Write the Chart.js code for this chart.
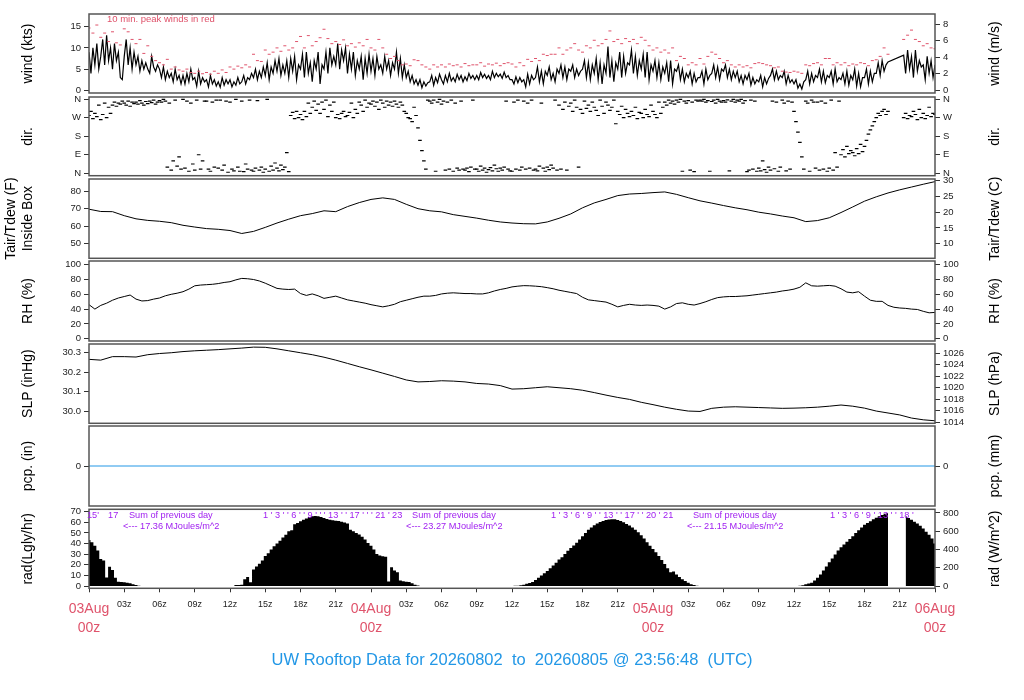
<!DOCTYPE html>
<html>
<head>
<meta charset="utf-8">
<script src="https://cdn.jsdelivr.net/npm/chart.js@4.4.1/dist/chart.umd.min.js"></script>
<style>
  body { margin: 0; background: #fff; width: 1024px; height: 700px; overflow: hidden; position: relative; }
  canvas { position: absolute; left: 0; }
</style>
</head>
<body>
<canvas id="cWind"></canvas>
<canvas id="cDir"></canvas>
<canvas id="cTemp"></canvas>
<canvas id="cRh"></canvas>
<canvas id="cSlp"></canvas>
<canvas id="cPcp"></canvas>
<canvas id="cRad"></canvas>
<script>
// ---- data (hours since 03Aug 00z) ----
// wind speed, kts, 6 samples per hour
const windKts = [
  [9,4,10,6,11,5], [8,12,6,13,7,10], [5,11,7,9,3,2.5], [8,12,6,10,5,9],
  [6,8,4.5,7,5,6.5], [5,4,8,5.5,4.5,6], [5,3,5.5,2.5,4.5,3], [4,2,5,2.5,3.5,1.5],
  [3.5,1.5,4,2,5,2.5], [3,1,4.5,1.5,3,2], [2.5,0.8,3.5,1.5,2.5,1], [2,0.7,3,1.2,2.5,1.5],
  [2.5,0.8,2,1.2,3,1.5], [2,3.5,1.5,3,2.5,4], [3,5,2.5,4.5,3,5.5], [3.5,6.5,2.5,5.5,4,7],
  [4.5,7.5,3.5,6,4,7], [3,7.5,4.5,8,2.5,6], [5,8.5,3,9,4,6.5], [2,7,5,9,1.5,6],
  [5,9,4,10,6,8], [6,11,5,9.5,7,10], [4,8.5,5,9,3.5,7], [5,8,2.5,7.5,4,8.5],
  [4.5,7.5,3.5,8,5,6], [4,8,5,7,3.5,6.5], [5,9,4,7.5,3,6], [3,4.5,2,3.5,1.5,2.5],
  [1.2,2.5,0.6,2,1,1.8], [2,3.5,1.2,3,1.8,3.8], [2.5,1.5,3.5,2,4,2.2], [3,2,3.8,2.5,3.5,2],
  [3.2,2.3,4,2.8,3.5,2.5], [3.5,2.5,4.2,3,3.8,2.8], [3.5,2.5,4.5,3,4,3.2], [3.8,2.8,4.3,3,3.5,2.5],
  [2.5,1.5,3.2,1.8,3,2], [2.5,0.8,3.8,1.5,3.5,2.5], [3,5.5,2,4.5,1.5,4.5], [3.5,5.5,2.5,4,2,5],
  [4,6,3,5.5,2.5,5], [4.5,6,3,5,3.5,4.5], [5,7,3,6.5,2.5,6], [4,7.5,2.5,6.5,1.5,6],
  [4,10.3,3,7,2,6.5], [5,9,3,8,4,6.5], [6,9.5,4,8,3.5,7], [5,8.5,3,9,2.5,6],
  [4.5,7,3,6.5,2.5,5.5], [4,6.5,2,7,1.5,5], [4.5,6,2.5,5,2,4], [3,4.5,1.5,4,2,3],
  [3,4.5,1.5,5,2.5,3.5], [4,6,3,5.5,2.5,5], [4.5,6,3,5,2.5,4.5], [3,4.5,2,3.5,1.5,3.5],
  [2.5,4,1.2,3,1.5,2.5], [2,3.5,0.8,3,1.5,2.8], [3.5,5,2.5,4.5,2.5,3.5], [3,4.5,1.5,3.5,1.8,2.5],
  [1.5,2.5,0.5,1.5,0.3,2], [2.5,4.5,1.5,4,2,3.5], [3,5,2,4.5,1.8,3.5], [3,4.5,1.5,5,2,3],
  [2.5,4,1.5,4.5,1.2,3.5], [2.5,5,1,4,0.8,3], [3,5,1.5,4.5,2,4], [4,6.5,3.5,7,4.5,6],
  [6.7,null,null,null,null,null], [null,null,8.3,4,9.5,5], [8,3,9.5,4.5,7,5.5], [6,2.5,8,4,7,3],
  [6]
];
// 10 min peak wind, kts, 3 samples per hour
const gustKts = [
  [14.7,13.5,15.4], [12.5,13.5,11.5], [13.8,11.2,10.7], [14.5,13.8,12],
  [11,12,8.7], [10.5,8,7], [6.5,6,7.3], [5,5.5,4.8],
  [4.5,5,4.2], [4,4.5,3.9], [4.2,3.8,4.5], [4,4.8,4.2],
  [5.5,5,5.7], [5.3,6,5.5], [8.5,7,6.8], [9.5,8.5,9],
  [10,9.2,10.5], [9.5,10,11.5], [12.7,10,12.9], [10.5,11.5,12.4],
  [14.4,12.2,11], [11.5,10.8,11.9], [10.5,11,10.2], [11.2,10.5,12],
  [10,9.5,12], [10,8.5,7.5], [8,7,6], [6.2,5.8,7.2],
  [7,6,5.5], [5,6,5.5], [6,5.5,6.2], [5.8,6,5.5],
  [6.3,5.8,6], [6,6.5,5.7], [6.2,6,6.4], [5.8,6.3,6.5],
  [6.2,5.5,6.5], [5.8,7.3,6.8], [7.5,7,8.5], [8.2,8.5,8.5],
  [10,8.5,9.5], [10,11,9.5], [9,10.5,10], [11.8,10.5,11],
  [12,14,11.5], [12,11,12.2], [11.5,12,11], [12.5,11.8,10.5],
  [9.5,10,9], [9.5,8.8,10], [7,8,7.5], [6,6.5,6],
  [7.5,6.2,8], [9,8.5,7.5], [6.5,7,6], [5.5,6,5.5],
  [5.8,5.3,6.3], [6.5,6.3,6], [5.8,5.3,5.5], [4.5,4.3,4.2],
  [4.5,4.3,4], [6,5.8,6.3], [6.5,6,7.5], [7.5,6,6.5],
  [6,6.5,5.8], [6.2,6,6.5], [6.3,5.8,7], [7.2,8,10],
  [8.5,null,null], [null,12,13], [14.2,12,11.5], [10.5,11,10],
  [9.8]
];
// wind direction, degrees, 6 samples per hour
const dirDeg = [
  [280,300,265,290,275,330], [260,285,340,270,320,290], [330,345,325,340,335,350], [340,330,350,325,345,338],
  [345,335,352,340,330,348], [338,350,342,355,335,345], [352,345,358,350,30,340], [15,60,355,35,80,20],
  [358,25,350,10,340,45], [15,355,90,20,60,350], [350,20,10,345,30,355], [25,355,15,40,350,5],
  [345,20,12,358,30,10], [350,8,45,20,355,15], [10,25,352,15,30,5], [20,358,10,35,15,50],
  [25,12,40,18,30,100], [8,280,295,265,300,270], [285,260,300,275,340,290], [320,350,305,335,290,345],
  [310,355,275,330,300,345], [270,285,265,290,300,275], [280,295,340,270,310,290], [345,330,300,355,320,340],
  [335,350,325,345,310,355], [340,320,350,330,345,325], [350,335,320,345,330,300], [290,270,265,250,320,280],
  [220,160,110,60,20,355], [350,340,355,10,345,358], [335,350,15,345,20,355], [10,340,25,15,350,20],
  [15,25,8,30,355,20], [20,10,35,15,25,5], [18,28,12,40,22,10], [25,15,30,350,20,12],
  [10,345,20,355,15,30], [350,20,340,25,355,15], [20,12,35,340,25,10], [30,18,40,25,355,15],
  [330,20,310,345,15,325], [340,300,355,320,30,310], [290,350,315,330,300,345], [320,305,280,355,325,290],
  [345,330,305,320,355,240], [300,285,325,270,310,290], [275,300,280,320,265,295], [290,270,310,285,275,330],
  [300,285,270,345,290,320], [345,330,355,340,350,335], [355,345,358,10,350,340], [352,15,345,8,355,350],
  [355,350,358,345,352,10], [348,355,340,358,350,345], [352,345,356,12,350,358], [345,355,350,358,340,352],
  [8,15,355,20,350,10], [25,12,60,18,5,30], [15,350,22,345,10,30], [355,340,12,350,20,345],
  [300,250,200,150,80,20], [350,340,10,355,345,25], [345,15,350,20,340,10], [25,355,15,100,30,350],
  [90,115,80,130,95,110], [100,85,120,95,140,105], [130,160,190,210,230,250], [270,290,280,300,310,285],
  [300,null,null,null,null,null], [null,null,270,290,265,280], [275,300,285,260,310,270], [290,265,280,320,275,290],
  [285]
];
// air temperature inside box, F, hourly
const tempF = [
  69.7, 68.4, 68.3, 66.0, 64.2, 63.3, 62.8, 62.0, 60.5, 59.5, 58.6, 58.2,
  57.5, 55.8, 57.0, 59.3, 61.8, 64.0, 66.0, 67.2, 68.8, 68.3, 71.2, 73.5,
  75.3, 76.2, 75.3, 72.5, 70.0, 68.8, 68.2, 66.6, 65.6, 64.6, 63.4, 62.4,
  61.8, 61.4, 61.3, 62.4, 64.5, 67.0, 70.5, 73.3, 75.3, 77.5, 78.4, 78.7,
  79.2, 79.6, 78.2, 76.3, 74.5, 73.2, 71.8, 70.5, 69.4, 68.0, 67.0, 65.8,
  64.8, 62.6, 63.2, 64.8, 67.8, 71.0, 74.3, 76.8, 79.0, 80.8, 82.4, 84.0,
  85.5
];
// relative humidity, %, 2 samples per hour
const rhPct = [
  [46,40], [45,48], [52,55], [57,59], [53.5,51], [51.5,53.5], [55,58], [60,61.5],
  [63.5,67], [71.5,72.5], [73,73.5], [74.5,76], [77,79.5], [81.5,81], [80,78], [75,71.5],
  [68,67], [66.5,67], [61,58.5], [60.5,58], [54.5,56], [57.5,55], [52.5,51], [49.5,48],
  [46,44.5], [43,44.5], [46.5,50], [52,54], [56,57.5], [57.5,58.5], [60.5,61.5], [62,61.5],
  [61,61], [60.5,60.5], [62,64.5], [66.5,68], [70,71], [71.7,71.5], [71,70.3], [69,67.5],
  [65.5,64], [62.5,61], [56,52.5], [51.5,50.5], [49.5,46.5], [43,45], [46.5,45.5], [45,45.5],
  [45,44], [40,43], [47.5,48.5], [46.5,45.5], [47.5,50], [53,55.5], [56.5,57], [57,57.5],
  [58,59], [60,61], [62,63], [64.5,65.5], [67,69.5], [75.5,71.5], [71,71.5], [72,71],
  [67.5,63], [62,63.5], [57.5,52], [50.5,50.5], [45,42.5], [41.5,41], [40,39.5], [37,35],
  [35.5]
];
// sea level pressure, inHg, hourly
const slpInHg = [
  30.266, 30.262, 30.280, 30.280, 30.278, 30.290, 30.296, 30.300, 30.306, 30.310, 30.313, 30.316,
  30.320, 30.324, 30.329, 30.328, 30.320, 30.310, 30.300, 30.290, 30.277, 30.262, 30.245, 30.228,
  30.212, 30.195, 30.178, 30.160, 30.150, 30.152, 30.156, 30.154, 30.150, 30.142, 30.139, 30.131,
  30.113, 30.115, 30.120, 30.125, 30.120, 30.115, 30.107, 30.095, 30.082, 30.070, 30.060, 30.045,
  30.033, 30.020, 30.009, 30.000, 29.998, 30.014, 30.020, 30.022, 30.020, 30.018, 30.016, 30.014,
  30.015, 30.017, 30.020, 30.025, 30.031, 30.025, 30.015, 30.000, 29.990, 29.980, 29.964, 29.955,
  29.950
];
// precipitation, in
const pcpHours = [0, 72];
const pcpIn = [0, 0];
// solar radiation, W/m^2, 4 samples per hour
const radW = [
  [505,480,440,390], [295,280,93,210], [175,90,47,44], [40,35,29,20], [12,4,0,0], [0,0,0,0],
  [0,0,0,0], [0,0,0,0], [0,0,0,0], [0,0,0,0], [0,0,0,0], [0,0,0,0],
  [0,0,10,12], [15,75,98,40], [180,215,245,280], [330,360,400,435], [465,495,530,560], [600,610,675,690],
  [710,725,740,755], [765,768,765,755], [745,735,725,720], [715,712,705,695], [685,615,600,580], [565,540,510,470],
  [440,400,350,335], [325,320,50,205], [170,150,60,52], [48,45,30,15], [5,0,0,0], [0,0,0,0],
  [0,0,0,0], [0,0,0,0], [0,0,0,0], [0,0,0,0], [0,0,0,0], [0,0,0,0],
  [0,2,3,8], [15,25,32,45], [65,90,115,140], [165,195,225,255], [290,315,350,385], [415,445,475,510],
  [545,580,615,640], [665,685,700,712], [722,728,730,730], [722,712,698,680], [662,640,615,588], [555,520,480,440],
  [405,370,330,285], [240,195,150,160], [125,98,75,55], [35,20,10,4], [1,0,0,0], [0,0,0,0],
  [0,0,0,0], [0,0,0,0], [0,0,0,0], [0,0,0,0], [0,0,0,0], [0,0,0,0],
  [0,0,3,8], [18,28,37,60], [90,125,170,215], [260,300,345,390], [425,455,485,515], [545,580,610,640],
  [670,690,710,730], [748,764,778,790], [800,null,null,null], [null,null,762,745], [725,705,685,660], [630,595,560,520],
  [466]
];

// ---- ticks & labels ----
const windKtsTicks = [0, 5, 10, 15];
const windMsTicks = [0, 2, 4, 6, 8];
const dirTicks = [0, 90, 180, 270, 360];
const dirTickLabels = ['N', 'E', 'S', 'W', 'N'];
const tempFTicks = [50, 60, 70, 80];
const tempCTicks = [10, 15, 20, 25, 30];
const rhTicks = [0, 20, 40, 60, 80, 100];
const slpInTicks = [30.0, 30.1, 30.2, 30.3];
const slpHpaTicks = [1014, 1016, 1018, 1020, 1022, 1024, 1026];
const pcpTicks = [0];
const radLyTicks = [0, 10, 20, 30, 40, 50, 60, 70];
const radWTicks = [0, 200, 400, 600, 800];
const xTickHours = [0,3,6,9,12,15,18,21,24,27,30,33,36,39,42,45,48,51,54,57,60,63,66,69,72];
const dayHours = [0, 24, 48, 72];
const dayLabels = ['03Aug', '04Aug', '05Aug', '06Aug'];
const windNote = '10 min. peak winds in red';
const windNoteAt = [1.53, 16.8];
// [text, hour, row]
const radNotes = [
  ["15'", -0.17, 0], ['17', 1.62, 0], ['Sum of previous day', 3.4, 0], ['<--- 17.36 MJoules/m^2', 2.89, 1],
  ["1 ' 3 ' ' 6 ' ' 9 ' ' ' 13 ' ' 17 ' ' ' 21 '", 14.81, 0], ['23', 25.79, 0],
  ['Sum of previous day', 27.49, 0], ['<--- 23.27 MJoules/m^2', 26.98, 1],
  ["1 ' 3 ' 6 ' 9 ' ' 13 ' ' 17 ' ' 20 ' 21", 39.32, 0],
  ['Sum of previous day', 51.4, 0], ['<--- 21.15 MJoules/m^2', 50.89, 1],
  ["1 ' 3 ' 6 ' 9 ' 13 ' ' 18 '", 63.06, 0]
];
const titleText = 'UW Rooftop Data for 20260802  to  20260805 @ 23:56:48  (UTC)';

// ---- style / layout ----
const FONT = '"Liberation Sans", Arial, Helvetica, sans-serif';
const RED = '#DF536B';
const BLUE = '#2297E6';
const PURPLE = '#A020F0';
const KT_MS = 0.514444;
const INHG_HPA = 33.8639;
const LY_W = 11.622;
const M = 10;
const X_AXIS_H = 40;

const panels = {
  wind: { top: 14, bottom: 93 },
  dir: { top: 97, bottom: 175.7 },
  temp: { top: 179, bottom: 258.3 },
  rh: { top: 261, bottom: 341 },
  slp: { top: 344, bottom: 423.3 },
  pcp: { top: 426, bottom: 506 },
  rad: { top: 509.3, bottom: 588.3 }
};

function series(rows) {
  const pts = [];
  rows.forEach((row, h) => row.forEach((v, j) => pts.push({ x: h + j / row.length, y: v })));
  return pts;
}
function hourly(vals) {
  return vals.map((v, h) => ({ x: h, y: v }));
}

function yAxis(pos, min, max, ticks, fmt) {
  return {
    type: 'linear', position: pos, min: min, max: max,
    afterBuildTicks: s => { s.ticks = ticks.map(v => ({ value: v })); },
    afterFit: s => { s.width = 89; s.paddingTop = 0; s.paddingBottom = 0; },
    border: { display: false },
    grid: { drawOnChartArea: false, drawTicks: true, tickLength: 5, tickColor: '#333' },
    ticks: {
      autoSkip: false, color: '#222', padding: 3,
      font: { family: FONT, size: 9.5 }, callback: fmt || (v => String(v))
    }
  };
}

function decor(cfg, canvasTop) {
  return {
    id: 'decor',
    afterDraw(chart) {
      const ctx = chart.ctx, a = chart.chartArea;
      ctx.save();
      ctx.strokeStyle = '#555';
      ctx.lineWidth = 1.5;
      ctx.strokeRect(a.left, a.top, a.right - a.left, a.bottom - a.top);
      const cy = (a.top + a.bottom) / 2;
      ctx.fillStyle = '#000';
      ctx.font = '14px ' + FONT;
      ctx.textAlign = 'center';
      ctx.textBaseline = 'middle';
      const side = (lines, x0) => lines.forEach((t, i) => {
        ctx.save();
        ctx.translate(x0 - (lines.length - 1 - i) * 17, cy);
        ctx.rotate(-Math.PI / 2);
        ctx.fillText(t, 0, 0);
        ctx.restore();
      });
      side(cfg.leftTitle, 28);
      side(cfg.rightTitle, 995);
      if (cfg.extra) cfg.extra(chart, ctx, canvasTop);
      ctx.restore();
    }
  };
}

function makeChart(id, box, cfg) {
  const cv = document.getElementById(id);
  const top = Math.floor(box.top) - M;
  const h = cfg.bottomAxis ? 700 - top : Math.ceil(box.bottom) + M - top;
  cv.width = 1024;
  cv.height = h;
  cv.style.top = top + 'px';
  cv.style.width = '1024px';
  cv.style.height = h + 'px';
  const padTop = box.top - top;
  const padBottom = h - (box.bottom - top) - (cfg.bottomAxis ? X_AXIS_H : 0);

  const x = cfg.bottomAxis ? {
    type: 'linear', min: 0, max: 72, offset: false,
    afterBuildTicks: s => { s.ticks = xTickHours.map(v => ({ value: v })); },
    afterFit: s => { s.height = X_AXIS_H; s.paddingLeft = 0; s.paddingRight = 0; },
    border: { display: false },
    grid: { offset: false, drawOnChartArea: false, drawTicks: true, tickLength: 4, tickColor: '#333' },
    ticks: {
      autoSkip: false, maxRotation: 0, padding: 7, color: '#222',
      font: { family: FONT, size: 9 },
      callback: v => (v % 24 === 0 ? '' : String(v % 24).padStart(2, '0') + 'z')
    }
  } : { type: 'linear', min: 0, max: 72, offset: false, display: false };

  return new Chart(cv, {
    type: 'line',
    data: { datasets: cfg.datasets },
    options: {
      responsive: false,
      animation: false,
      devicePixelRatio: 1,
      layout: { padding: { top: padTop, bottom: padBottom, left: 0, right: 0 } },
      plugins: { legend: { display: false }, tooltip: { enabled: false } },
      elements: { point: { radius: 0 }, line: { tension: 0 } },
      scales: Object.assign({ x: x }, cfg.scales)
    },
    plugins: [decor(cfg, top)]
  });
}

// wind
const windMin = -0.64, windMax = 18.0;
makeChart('cWind', panels.wind, {
  leftTitle: ['wind (kts)'], rightTitle: ['wind (m/s)'],
  datasets: [
    { data: series(gustKts), yAxisID: 'yL', showLine: false, pointStyle: 'line',
      pointRadius: 1.5, pointBorderWidth: 1, pointBorderColor: RED },
    { data: series(windKts), yAxisID: 'yL', borderColor: '#000', borderWidth: 1.2,
      pointRadius: 0, spanGaps: true }
  ],
  scales: {
    yL: yAxis('left', windMin, windMax, windKtsTicks),
    yR: yAxis('right', windMin * KT_MS, windMax * KT_MS, windMsTicks)
  },
  extra: (chart, ctx) => {
    ctx.fillStyle = RED;
    ctx.font = '9.5px ' + FONT;
    ctx.textAlign = 'left';
    ctx.fillText(windNote, chart.scales.x.getPixelForValue(windNoteAt[0]),
      chart.scales.yL.getPixelForValue(windNoteAt[1]));
  }
});

// direction
const dirFmt = v => dirTickLabels[dirTicks.indexOf(v)];
makeChart('cDir', panels.dir, {
  leftTitle: ['dir.'], rightTitle: ['dir.'],
  datasets: [
    { data: series(dirDeg), yAxisID: 'yL', showLine: false, pointStyle: 'line',
      pointRadius: 1.8, pointBorderWidth: 1.2, pointBorderColor: '#000' }
  ],
  scales: {
    yL: yAxis('left', -11.6, 369.7, dirTicks, dirFmt),
    yR: yAxis('right', -11.6, 369.7, dirTicks, dirFmt)
  }
});

// temperature
const tMin = 41.6, tMax = 87.0;
makeChart('cTemp', panels.temp, {
  leftTitle: ['Tair/Tdew (F)', 'Inside Box'], rightTitle: ['Tair/Tdew (C)'],
  datasets: [
    { data: hourly(tempF), yAxisID: 'yL', borderColor: '#000', borderWidth: 1, pointRadius: 0 }
  ],
  scales: {
    yL: yAxis('left', tMin, tMax, tempFTicks),
    yR: yAxis('right', (tMin - 32) / 1.8, (tMax - 32) / 1.8, tempCTicks)
  }
});

// relative humidity
makeChart('cRh', panels.rh, {
  leftTitle: ['RH (%)'], rightTitle: ['RH (%)'],
  datasets: [
    { data: series(rhPct), yAxisID: 'yL', borderColor: '#000', borderWidth: 1, pointRadius: 0 }
  ],
  scales: {
    yL: yAxis('left', -3.1, 105, rhTicks),
    yR: yAxis('right', -3.1, 105, rhTicks)
  }
});

// pressure
const pMin = 29.937, pMax = 30.345;
makeChart('cSlp', panels.slp, {
  leftTitle: ['SLP (inHg)'], rightTitle: ['SLP (hPa)'],
  datasets: [
    { data: hourly(slpInHg), yAxisID: 'yL', borderColor: '#000', borderWidth: 1, pointRadius: 0 }
  ],
  scales: {
    yL: yAxis('left', pMin, pMax, slpInTicks, v => v.toFixed(1)),
    yR: yAxis('right', pMin * INHG_HPA, pMax * INHG_HPA, slpHpaTicks)
  }
});

// precipitation
makeChart('cPcp', panels.pcp, {
  leftTitle: ['pcp. (in)'], rightTitle: ['pcp. (mm)'],
  datasets: [
    { data: pcpIn.map((v, i) => ({ x: pcpHours[i], y: v })), yAxisID: 'yL',
      borderColor: BLUE, borderWidth: 1, pointRadius: 0 }
  ],
  scales: {
    yL: yAxis('left', -1, 1, pcpTicks),
    yR: yAxis('right', -25.4, 25.4, pcpTicks)
  }
});

// radiation
const rMin = -25, rMax = 840;
makeChart('cRad', panels.rad, {
  bottomAxis: true,
  leftTitle: ['rad(Lgly/hr)'], rightTitle: ['rad (W/m^2)'],
  datasets: [
    { data: series(radW), yAxisID: 'yR', borderWidth: 0, borderColor: 'rgba(0,0,0,0)',
      backgroundColor: '#000', fill: 'origin', stepped: 'middle', pointRadius: 0 }
  ],
  scales: {
    yL: yAxis('left', rMin / LY_W, rMax / LY_W, radLyTicks),
    yR: yAxis('right', rMin, rMax, radWTicks)
  },
  extra: (chart, ctx, top) => {
    const xs = chart.scales.x;
    ctx.fillStyle = PURPLE;
    ctx.font = '9.2px ' + FONT;
    ctx.textAlign = 'left';
    ctx.textBaseline = 'middle';
    radNotes.forEach(n => ctx.fillText(n[0], xs.getPixelForValue(n[1]), (n[2] ? 526 : 515) - top));
    ctx.fillStyle = RED;
    ctx.font = '14px ' + FONT;
    ctx.textAlign = 'center';
    dayHours.forEach((hr, i) => {
      const px = xs.getPixelForValue(hr);
      ctx.fillText(dayLabels[i], px, 609 - top);
      ctx.fillText('00z', px, 628 - top);
    });
    ctx.fillStyle = BLUE;
    ctx.font = '16.5px ' + FONT;
    ctx.fillText(titleText, 512, 660 - top);
  }
});
</script>
</body>
</html>
